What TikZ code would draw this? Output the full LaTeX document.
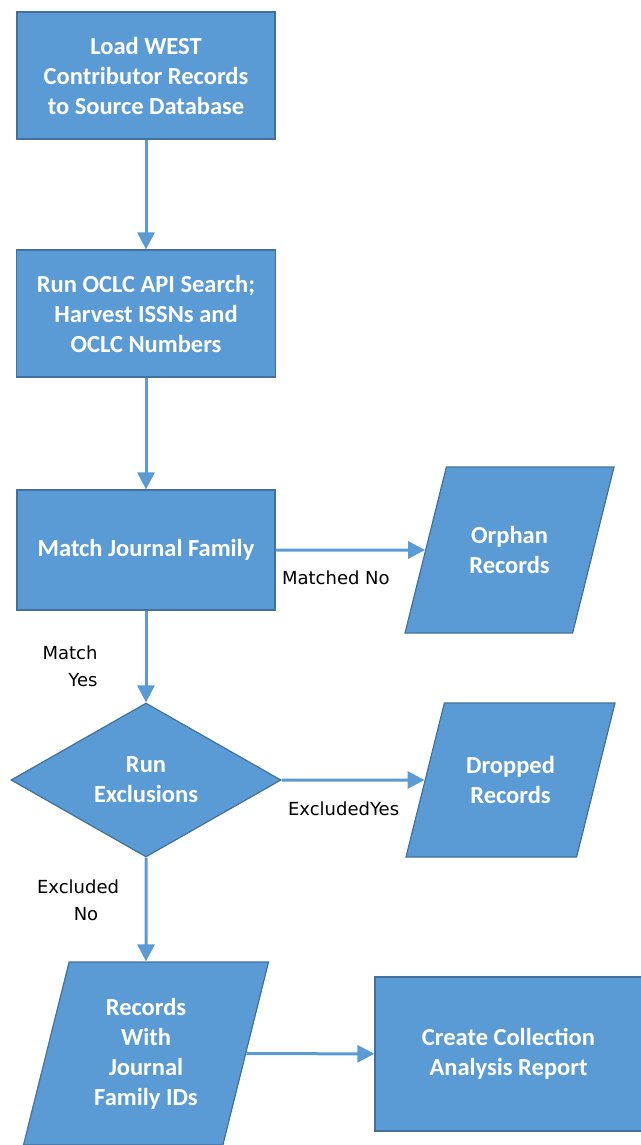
\documentclass[tikz,border=0pt]{standalone}
\usepackage{fontspec}
\setmainfont{Carlito}
\newfontfamily\lblfont{DejaVu Sans}
\usetikzlibrary{shapes.geometric,arrows.meta}
\definecolor{boxblue}{HTML}{5B9BD5}
\definecolor{boxedge}{HTML}{41719C}
\newcommand\slanttext[2]{\parbox[c][#1][c]{110pt}{\centering #2}}

\begin{document}
\begin{tikzpicture}[x=1pt,y=-1pt,
		shapetext/.style={draw=boxedge,fill=boxblue,line width=1.2pt,text=white,inner sep=0pt,align=center,font=\bfseries\fontsize{24.5}{30}\selectfont},
		procbox/.style={shapetext,rectangle},
		databox/.style={shapetext,trapezium,trapezium left angle=76,trapezium right angle=104,trapezium stretches body},
		decide/.style={shapetext,diamond,aspect=1.75},
		flow/.style={draw=boxblue,line width=3pt,-{Triangle[length=17pt,width=17pt]}},
		lbl/.style={inner sep=0pt,text=black,font=\lblfont\fontsize{18}{27}\selectfont}]
			\useasboundingbox (0,0) rectangle (640,1145);
			\node[procbox,minimum width=258,minimum height=127] (load) at (146,75.5) {Load WEST\\Contributor Records\\to Source Database};
			\node[procbox,minimum width=259,minimum height=127] (search) at (146,313.5) {Run OCLC API Search;\\Harvest ISSNs and\\OCLC Numbers};
			\node[procbox,minimum width=258,minimum height=120] (family) at (146,550) {Match Journal Family};
			\node[databox,minimum width=209] (orphan) at (509.5,550) {\slanttext{166pt}{Orphan\\Records}};
			\node[decide,minimum width=270,minimum height=154] (exclude) at (146,780) {Run\\Exclusions};
			\node[databox,minimum width=209] (dropped) at (510.5,780) {\slanttext{154pt}{Dropped\\Records}};
			\node[databox,minimum width=245] (records) at (146,1053.5) {\slanttext{183pt}{Records\\With\\Journal\\Family IDs}};
			\node[procbox,minimum width=267,minimum height=154] (report) at (508.5,1054) {Create Collection\\Analysis Report};
			\draw[flow] (load) -- (search);
			\draw[flow] (search) -- (family);
			\draw[flow] (family) -- node[lbl,pos=0,anchor=west,xshift=5pt,yshift=-28pt] {Matched No} (orphan);
			\draw[flow] (family.south) -- node[lbl,pos=0.61,anchor=east,align=right,xshift=-47pt] {Match\\Yes} (exclude.north);
			\draw[flow] (exclude) -- node[lbl,pos=0,anchor=west,xshift=5pt,yshift=-29pt] {ExcludedYes} (dropped);
			\draw[flow] (exclude.south) -- node[lbl,pos=0.41,align=center,xshift=-68pt] {Excluded\\\hspace*{16pt}No} (records.north);
			\draw[flow] (records) -- (report);
		\end{tikzpicture}
\end{document}
